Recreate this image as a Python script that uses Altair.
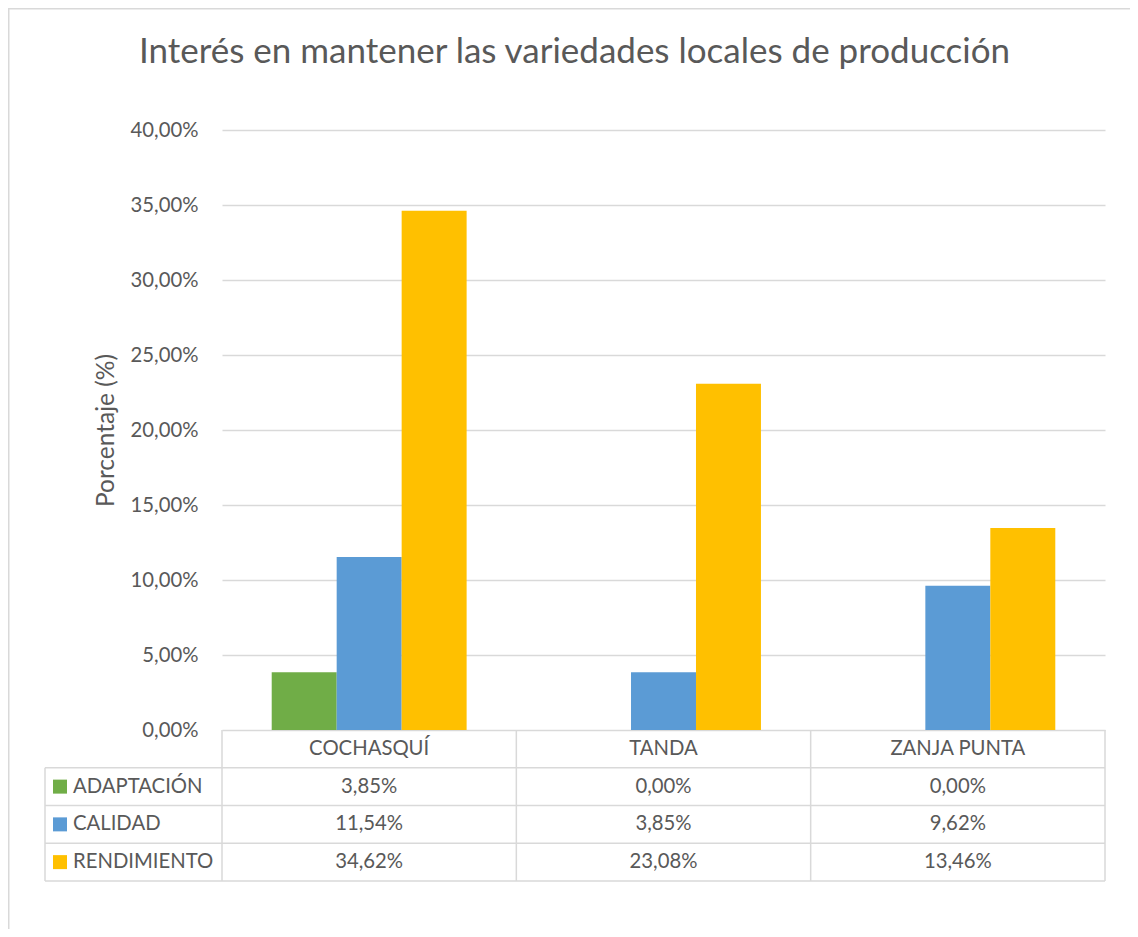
import altair as alt
import pandas as pd

# ---- data ----
CATEGORIES = ["COCHASQUÍ", "TANDA", "ZANJA PUNTA"]
SERIES = ["ADAPTACIÓN", "CALIDAD", "RENDIMIENTO"]
ADAPTACION = [3.85, 0.00, 0.00]
CALIDAD = [11.54, 3.85, 9.62]
RENDIMIENTO = [34.62, 23.08, 13.46]
Y_TICKS = [0, 5, 10, 15, 20, 25, 30, 35, 40]
COLORS = ["#70AD47", "#5B9BD5", "#FFC000"]
TITLE = "Interés en mantener las variedades locales de producción"
Y_TITLE = "Porcentaje (%)"

# ---- layout / style ----
W, H = 883, 600
Y_MAX = 40
PX_PER_UNIT = H / Y_MAX
ROW_H = 37.75
ROW_U = ROW_H / PX_PER_UNIT
LEFT_COL = 177
FONT = "Lato"
TXT = "#595959"
LINE = "#D9D9D9"
FS = 20.3
PAD = {"left": 214, "top": 122, "right": 25, "bottom": 199}

series_values = [ADAPTACION, CALIDAD, RENDIMIENTO]
rows = []
for si, s in enumerate(SERIES):
    for ci, c in enumerate(CATEGORIES):
        v = series_values[si][ci]
        rows.append({"cat": c, "serie": s, "value": v, "row": si + 1,
                     "label": f"{v:.2f}".replace(".", ",") + "%"})
df = pd.DataFrame(rows)
df["ty"] = -(df["row"] + 0.5) * ROW_U

cats_df = pd.DataFrame({"cat": CATEGORIES})
cats_df["ty"] = -0.5 * ROW_U
cats_df["y0"] = 0.0
cats_df["y1"] = -(len(SERIES) + 1) * ROW_U

series_df = pd.DataFrame({"serie": SERIES, "row": list(range(1, len(SERIES) + 1))})
series_df["ty"] = -(series_df["row"] + 0.5) * ROW_U

hlines_df = pd.DataFrame({"r": list(range(1, len(SERIES) + 2))})
hlines_df["ty"] = -hlines_df["r"] * ROW_U

left_df = pd.DataFrame({"y0": [-ROW_U], "y1": [-(len(SERIES) + 1) * ROW_U]})
title_df = pd.DataFrame({"t": [TITLE]})
one_df = pd.DataFrame({"a": [0]})

xscale = alt.Scale(domain=CATEGORIES, paddingInner=0, paddingOuter=0)
yscale = alt.Scale(domain=[0, Y_MAX], nice=False)
cscale = alt.Scale(domain=SERIES, range=COLORS)

yaxis = alt.Axis(values=Y_TICKS, domain=False, ticks=False, tickSize=0,
                 labelExpr="replace(format(datum.value, '.2f'), '.', ',') + '%'",
                 labelFont=FONT, labelFontSize=FS, labelColor=TXT, labelPadding=24,
                 grid=True, gridColor=LINE, gridWidth=1.3,
                 titleFont=FONT, titleFontSize=24.5, titleColor=TXT, titleFontWeight="normal",
                 titleX=-116, titleY=H / 2, titleAlign="center", titleBaseline="middle",
                 titleAngle=270)


def Y(field):
    return alt.Y(field, scale=yscale, axis=yaxis, title=Y_TITLE)


bars = alt.Chart(df).mark_bar().encode(
    x=alt.X("cat:N", scale=xscale, axis=None),
    xOffset=alt.XOffset("serie:N", scale=alt.Scale(domain=SERIES, paddingInner=0, paddingOuter=0.765)),
    y=Y("value:Q"),
    color=alt.Color("serie:N", scale=cscale, legend=None),
)

hlines = alt.Chart(hlines_df).mark_rule(color=LINE, strokeWidth=1.5).encode(
    x=alt.value(-LEFT_COL), x2=alt.value(W),
    y=Y("ty:Q"),
)

vlines = alt.Chart(cats_df).mark_rule(color=LINE, strokeWidth=1.5).encode(
    x=alt.X("cat:N", scale=xscale, axis=None, bandPosition=0),
    y=Y("y0:Q"), y2="y1:Q",
)

vlast = alt.Chart(cats_df.tail(1)).mark_rule(color=LINE, strokeWidth=1.5).encode(
    x=alt.X("cat:N", scale=xscale, axis=None, bandPosition=1),
    y=Y("y0:Q"), y2="y1:Q",
)

vleft = alt.Chart(left_df).mark_rule(color=LINE, strokeWidth=1.5).encode(
    x=alt.value(-LEFT_COL),
    y=Y("y0:Q"), y2="y1:Q",
)

header = alt.Chart(cats_df).mark_text(font=FONT, fontSize=FS, color=TXT, baseline="middle").encode(
    x=alt.X("cat:N", scale=xscale, axis=None),
    y=Y("ty:Q"),
    text="cat:N",
)

cells = alt.Chart(df).mark_text(font=FONT, fontSize=FS, color=TXT, baseline="middle").encode(
    x=alt.X("cat:N", scale=xscale, axis=None),
    y=Y("ty:Q"),
    text="label:N",
)

keys = alt.Chart(series_df).mark_square(size=196, opacity=1).encode(
    x=alt.value(-162),
    y=Y("ty:Q"),
    color=alt.Color("serie:N", scale=cscale, legend=None),
)

key_text = alt.Chart(series_df).mark_text(font=FONT, fontSize=FS, color=TXT, align="left",
                                           baseline="middle").encode(
    x=alt.value(-149),
    y=Y("ty:Q"),
    text="serie:N",
)

title = alt.Chart(title_df).mark_text(font=FONT, fontSize=35, color=TXT, align="center",
                                       baseline="alphabetic").encode(
    x=alt.value(W / 2 - 89), y=alt.value(-67), text="t:N",
)

# outer chart border (left and top edges visible in the reference)
frame_left = alt.Chart(one_df).mark_rule(color=LINE, strokeWidth=1.5).encode(
    x=alt.value(-213.25), y=alt.value(-122), y2=alt.value(H + PAD["bottom"]),
)
frame_top = alt.Chart(one_df).mark_rule(color=LINE, strokeWidth=1.5).encode(
    x=alt.value(-214), x2=alt.value(W + PAD["right"]), y=alt.value(-121.25),
)

chart = alt.layer(bars, frame_left, frame_top, hlines, vlines, vlast, vleft, header, cells, keys,
                  key_text, title).properties(
    width=W, height=H,
    autosize=alt.AutoSizeParams(type="none"),
    padding=PAD,
).configure_view(stroke=None)

chart.save("out.html", embed_options={"renderer": "svg", "actions": False})
